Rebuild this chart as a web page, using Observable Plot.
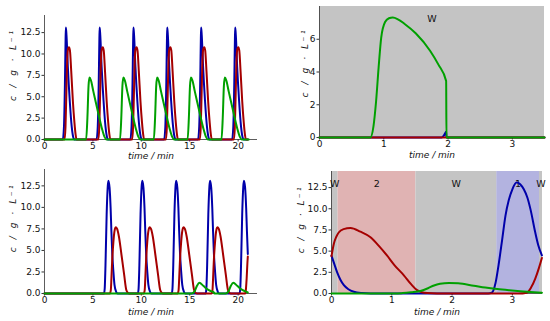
<!DOCTYPE html>
<html><head><meta charset="utf-8">
<script src="https://cdn.jsdelivr.net/npm/d3@7"></script>
<script src="https://cdn.jsdelivr.net/npm/@observablehq/plot@0.6"></script>
<style>
body{margin:0;background:#fff;}
#wrap{position:relative;width:550px;height:321px;overflow:hidden;font-family:"DejaVu Sans",sans-serif;}
#wrap svg{position:absolute;overflow:visible;}
</style></head><body><div id="wrap"></div>
<script>
// ---------- data (time / min, c / g·L^-1) ----------
const p1Blue = [[0,0],
[1.89,0],[2.01,1.5],[2.11,6.5],[2.18,11.8],[2.21,13.1],[2.27,12.2],[2.41,8.5],[2.61,4.5],[2.81,1.5],[3.01,0.1],[3.06,0],
[5.38,0],[5.50,1.5],[5.60,6.5],[5.67,11.8],[5.70,13.1],[5.76,12.2],[5.90,8.5],[6.10,4.5],[6.30,1.5],[6.50,0.1],[6.55,0],
[8.87,0],[8.99,1.5],[9.09,6.5],[9.16,11.8],[9.19,13.1],[9.25,12.2],[9.39,8.5],[9.59,4.5],[9.79,1.5],[9.99,0.1],[10.04,0],
[12.36,0],[12.48,1.5],[12.58,6.5],[12.65,11.8],[12.68,13.1],[12.74,12.2],[12.88,8.5],[13.08,4.5],[13.28,1.5],[13.48,0.1],[13.53,0],
[15.86,0],[15.98,1.5],[16.08,6.5],[16.15,11.8],[16.18,13.1],[16.24,12.2],[16.38,8.5],[16.58,4.5],[16.78,1.5],[16.98,0.1],[17.03,0],
[19.38,0],[19.50,1.5],[19.60,6.5],[19.67,11.8],[19.70,13.1],[19.76,12.2],[19.90,8.5],[20.10,4.5],[20.30,1.5],[20.50,0.1],[20.55,0],
[21.0,0]];
const p1Red = [[0,0],
[2.07,0],[2.17,1.5],[2.26,5.5],[2.35,9.5],[2.43,10.6],[2.53,10.8],[2.63,10.4],[2.76,8.0],[2.93,4.5],[3.09,2.0],[3.21,0.6],[3.31,0],
[5.56,0],[5.66,1.5],[5.75,5.5],[5.84,9.5],[5.92,10.6],[6.02,10.8],[6.12,10.4],[6.25,8.0],[6.42,4.5],[6.58,2.0],[6.70,0.6],[6.80,0],
[9.05,0],[9.15,1.5],[9.24,5.5],[9.33,9.5],[9.41,10.6],[9.51,10.8],[9.61,10.4],[9.74,8.0],[9.91,4.5],[10.07,2.0],[10.19,0.6],[10.29,0],
[12.54,0],[12.64,1.5],[12.73,5.5],[12.82,9.5],[12.90,10.6],[13.00,10.8],[13.10,10.4],[13.23,8.0],[13.40,4.5],[13.56,2.0],[13.68,0.6],[13.78,0],
[16.04,0],[16.14,1.5],[16.23,5.5],[16.32,9.5],[16.40,10.6],[16.50,10.8],[16.60,10.4],[16.73,8.0],[16.90,4.5],[17.06,2.0],[17.18,0.6],[17.28,0],
[19.56,0],[19.66,1.5],[19.75,5.5],[19.84,9.5],[19.92,10.6],[20.02,10.8],[20.12,10.4],[20.25,8.0],[20.42,4.5],[20.58,2.0],[20.70,0.6],[20.80,0],
[21.0,0]];
const p1Green = [[0,0],
[4.30,0],[4.43,2.5],[4.55,6.3],[4.65,7.25],[4.80,6.9],[5.05,5.6],[5.35,4.1],[5.65,2.6],[5.95,1.2],[6.20,0.3],[6.40,0],
[7.80,0],[7.93,2.5],[8.05,6.3],[8.15,7.25],[8.30,6.9],[8.55,5.6],[8.85,4.1],[9.15,2.6],[9.45,1.2],[9.70,0.3],[9.90,0],
[11.29,0],[11.42,2.5],[11.54,6.3],[11.64,7.25],[11.79,6.9],[12.04,5.6],[12.34,4.1],[12.64,2.6],[12.94,1.2],[13.19,0.3],[13.39,0],
[14.78,0],[14.91,2.5],[15.03,6.3],[15.13,7.25],[15.28,6.9],[15.53,5.6],[15.83,4.1],[16.13,2.6],[16.43,1.2],[16.68,0.3],[16.88,0],
[18.28,0],[18.41,2.5],[18.53,6.3],[18.63,7.25],[18.78,6.9],[19.03,5.6],[19.33,4.1],[19.63,2.6],[19.93,1.2],[20.18,0.3],[20.38,0],
[21.1,0]];

const p2Blue = [[0,0],[1.90,0],[1.93,0.1],[1.96,0.3],[1.97,0.35],[1.975,0],[3.5,0]];
const p2Red = [[0,0],[3.5,0]];
const p2Green = [[0,0],[0.79,0],[0.84,0.7],[0.88,2.2],[0.92,4.3],[0.96,6.1],[1.02,7.05],[1.08,7.28],[1.14,7.33],[1.22,7.22],[1.32,6.95],[1.50,6.35],[1.72,5.3],[1.85,4.45],[1.97,3.45],[1.975,0],[3.5,0]];

const p3Blue = [[0,0],
[6.15,0],[6.22,0.6],[6.30,3.3],[6.42,9.2],[6.53,12.4],[6.60,13.1],[6.72,12.3],[6.83,9.9],[6.91,7.2],[7.00,4.6],[7.12,2.5],[7.23,1.0],[7.40,0.2],[7.55,0],
[9.65,0],[9.72,0.6],[9.80,3.3],[9.92,9.2],[10.03,12.4],[10.10,13.1],[10.22,12.3],[10.33,9.9],[10.41,7.2],[10.50,4.6],[10.62,2.5],[10.73,1.0],[10.90,0.2],[11.05,0],
[13.15,0],[13.22,0.6],[13.30,3.3],[13.42,9.2],[13.53,12.4],[13.60,13.1],[13.72,12.3],[13.83,9.9],[13.91,7.2],[14.00,4.6],[14.12,2.5],[14.23,1.0],[14.40,0.2],[14.55,0],
[16.65,0],[16.72,0.6],[16.80,3.3],[16.92,9.2],[17.03,12.4],[17.10,13.1],[17.22,12.3],[17.33,9.9],[17.41,7.2],[17.50,4.6],[17.62,2.5],[17.73,1.0],[17.90,0.2],[18.05,0],
[20.15,0],[20.22,0.6],[20.30,3.3],[20.42,9.2],[20.53,12.4],[20.60,13.1],[20.72,12.3],[20.83,9.9],[20.91,7.2],[21.0,4.6]];
const p3Red = [[0,0],
[6.75,0],[6.85,0.4],[6.91,1.7],[6.99,3.8],[7.07,5.3],[7.17,6.7],[7.27,7.5],[7.35,7.7],[7.50,7.5],[7.68,6.65],[7.95,4.5],[8.23,2.15],[8.45,0.4],[8.63,0.05],[8.75,0],
[10.25,0],[10.35,0.4],[10.41,1.7],[10.49,3.8],[10.57,5.3],[10.67,6.7],[10.77,7.5],[10.85,7.7],[11.00,7.5],[11.18,6.65],[11.45,4.5],[11.73,2.15],[11.95,0.4],[12.13,0.05],[12.25,0],
[13.75,0],[13.85,0.4],[13.91,1.7],[13.99,3.8],[14.07,5.3],[14.17,6.7],[14.27,7.5],[14.35,7.7],[14.50,7.5],[14.68,6.65],[14.95,4.5],[15.23,2.15],[15.45,0.4],[15.63,0.05],[15.75,0],
[17.25,0],[17.35,0.4],[17.41,1.7],[17.49,3.8],[17.57,5.3],[17.67,6.7],[17.77,7.5],[17.85,7.7],[18.00,7.5],[18.18,6.65],[18.45,4.5],[18.73,2.15],[18.95,0.4],[19.13,0.05],[19.25,0],
[20.70,0],[20.76,0.1],[20.88,1.76],[20.96,3.6],[21.0,4.3]];
const p3Green = [[0,0],
[15.2,0],[15.5,0.25],[15.75,0.9],[16.0,1.25],[16.4,0.9],[16.8,0.5],[17.2,0.27],[17.5,0.12],[17.55,0],
[18.7,0],[19.0,0.25],[19.25,0.9],[19.5,1.25],[19.9,0.9],[20.3,0.5],[20.7,0.27],[21.0,0.12]];

const p4Blue = [[0,4.45],[0.05,3.4],[0.094,2.5],[0.15,1.6],[0.205,0.98],[0.28,0.5],[0.37,0.2],[0.5,0.05],[0.65,0],[2.6,0],[2.66,0.1],[2.72,1.2],[2.77,3.3],[2.83,6.3],[2.886,9.2],[2.94,11.0],[3.0,12.3],[3.07,13.1],[3.13,12.9],[3.19,12.3],[3.25,11.3],[3.30,9.96],[3.38,7.2],[3.43,5.7],[3.49,4.5]];
const p4Red = [[0,4.4],[0.04,5.9],[0.08,6.7],[0.12,7.2],[0.2,7.6],[0.315,7.74],[0.48,7.3],[0.647,6.64],[0.8,5.5],[0.92,4.49],[1.05,3.3],[1.2,2.15],[1.32,1.1],[1.42,0.39],[1.5,0.15],[1.59,0.05],[1.75,0],[3.1,0],[3.24,0.1],[3.31,0.7],[3.38,1.76],[3.44,3.0],[3.49,4.2]];
const p4Green = [[0,0],[1.05,0],[1.18,0.05],[1.32,0.15],[1.475,0.3],[1.6,0.62],[1.7,0.95],[1.8,1.15],[1.95,1.25],[2.1,1.2],[2.36,0.92],[2.55,0.7],[2.75,0.52],[2.95,0.38],[3.13,0.27],[3.3,0.18],[3.49,0.1]];

const p2Regions = [{start: 0, end: 3.5, kind: "W"}];
const p4Regions = [
  {start: 0, end: 0.105, kind: "W"},
  {start: 0.105, end: 1.40, kind: "2"},
  {start: 1.40, end: 2.74, kind: "W"},
  {start: 2.74, end: 3.45, kind: "1"},
  {start: 3.45, end: 3.5, kind: "W"}];

const longTicksX = [0, 5, 10, 15, 20];
const shortTicksX = [0, 1, 2, 3];
const concTicks = [0, 2.5, 5, 7.5, 10, 12.5];
const concTicksP2 = [0, 2, 4, 6];
const xLabel = "time / min";
const yLabel = "c / g · L\u207B\u00B9";

// ---------- styles ----------
const colBlue = "#0000aa", colRed = "#a50000", colGreen = "#00a000";
const regionFill = {W: "#c4c4c4", "2": "#e0b3b3", "1": "#b3b3e0"};
const axisColor = "#333";

function panel(cfg) {
  const marks = [];
  if (cfg.regions) {
    for (const k of Object.keys(regionFill)) {
      marks.push(Plot.rect(cfg.regions.filter(d => d.kind === k), {x1: "start", x2: "end", fill: regionFill[k]}));
    }
  }
  marks.push(Plot.ruleX([cfg.xDomain[0]], {stroke: axisColor, strokeWidth: 0.8}));
  marks.push(Plot.ruleY([cfg.yDomain[0]], {stroke: axisColor, strokeWidth: 0.8}));
  marks.push(Plot.axisX({ticks: cfg.xTicks, tickFormat: d3.format("d"), tickSize: 2.5, tickPadding: 0.5, label: null, stroke: axisColor}));
  marks.push(Plot.axisY({ticks: cfg.yTicks, tickFormat: cfg.yFormat, tickSize: 2.5, tickPadding: 1.5, label: null, stroke: axisColor}));
  if (cfg.regions) {
    marks.push(Plot.text(cfg.regions, {x: d => (d.start + d.end) / 2, text: "kind", frameAnchor: "top", dy: 12, lineAnchor: "middle", textAnchor: "middle", fontSize: 9.5, fill: "#111"}));
  }
  const line = (data, stroke) => Plot.line(data, {x: d => d[0], y: d => d[1], stroke, strokeWidth: 2, curve: "monotone-x"});
  marks.push(line(cfg.blue, colBlue), line(cfg.red, colRed), line(cfg.green, colGreen));
  marks.push(Plot.text([yLabel], {frameAnchor: "left", dx: cfg.yLabelDx, dy: cfg.yLabelDy, rotate: -90, fontStyle: "italic", fontSize: 9, fill: "#111", lineAnchor: "middle", textAnchor: "middle"}));
  marks.push(Plot.text([xLabel], {frameAnchor: "bottom", dy: cfg.xLabelDy, fontStyle: "italic", fontSize: 9, fill: "#111", lineAnchor: "middle", textAnchor: "middle"}));
  const svg = Plot.plot({
    width: 275, height: cfg.height,
    marginLeft: cfg.m[0], marginRight: cfg.m[1], marginTop: cfg.m[2], marginBottom: cfg.m[3],
    x: {domain: cfg.xDomain},
    y: {domain: cfg.yDomain},
    style: {fontFamily: "DejaVu Sans", fontSize: "9px", background: "transparent", overflow: "visible", color: "#111"},
    marks
  });
  svg.style.left = cfg.left + "px";
  svg.style.top = cfg.top + "px";
  svg.querySelectorAll("text").forEach(t => {
    if (t.textContent === yLabel) { t.setAttribute("textLength", cfg.yLabelLen); t.setAttribute("lengthAdjust", "spacing"); }
  });
  return svg;
}

const wrap = document.getElementById("wrap");
const f1 = d3.format(".1f");
wrap.append(panel({left: 0, top: 0, height: 160, m: [44, 18, 15, 21], xDomain: [0, 22], yDomain: [0, 14.5],
  xTicks: longTicksX, yTicks: concTicks, yFormat: f1, blue: p1Blue, red: p1Red, green: p1Green,
  yLabelDx: -31, yLabelDy: -11.5, yLabelLen: 70, xLabelDy: 17}));
wrap.append(panel({left: 275, top: 0, height: 160, m: [44, 6, 6, 23], xDomain: [0, 3.5], yDomain: [0, 8],
  xTicks: shortTicksX, yTicks: concTicksP2, yFormat: d3.format("d"), blue: p2Blue, red: p2Red, green: p2Green, regions: p2Regions,
  yLabelDx: -14, yLabelDy: -8, yLabelLen: 67, xLabelDy: 18}));
wrap.append(panel({left: 0, top: 160, height: 161, m: [44, 18, 9, 28], xDomain: [0, 22], yDomain: [0, 14.4],
  xTicks: longTicksX, yTicks: concTicks, yFormat: f1, blue: p3Blue, red: p3Red, green: p3Green,
  yLabelDx: -31, yLabelDy: -12.7, yLabelLen: 67, xLabelDy: 18.5}));
wrap.append(panel({left: 275, top: 160, height: 161, m: [56, 8, 11, 28], xDomain: [0, 3.5], yDomain: [0, 14.4],
  xTicks: shortTicksX, yTicks: concTicks, yFormat: f1, blue: p4Blue, red: p4Red, green: p4Green, regions: p4Regions,
  yLabelDx: -30, yLabelDy: -12.2, yLabelLen: 66, xLabelDy: 18.5}));
</script></body></html>
